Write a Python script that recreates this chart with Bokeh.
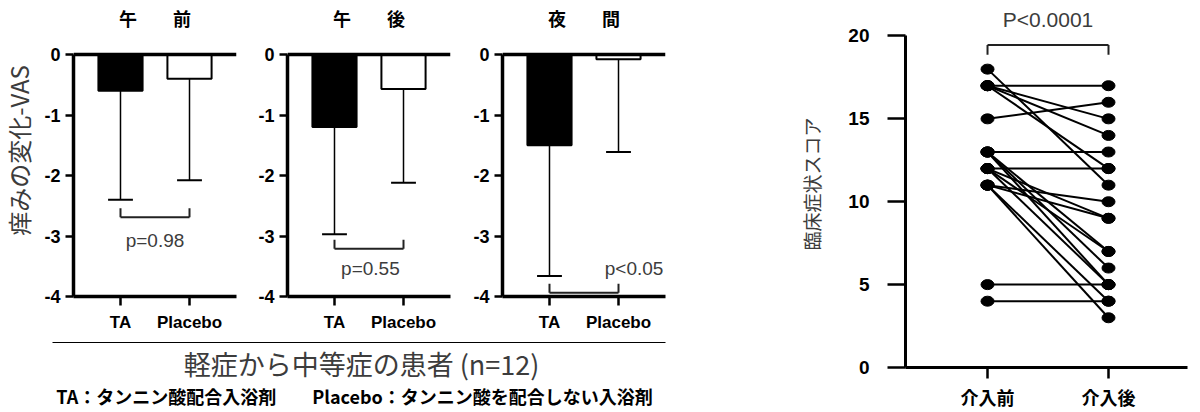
import numpy as np
from bokeh.plotting import figure
from bokeh.models import Range1d, FixedTicker, Label, ColumnDataSource
from bokeh.layouts import row, column
from bokeh.embed import file_html
from bokeh.resources import INLINE

# ---------------- data ----------------
groups = ["TA", "Placebo"]
period_titles = ["午　　前", "午　　後", "夜　　間"]
ta_mean = [-0.60, -1.20, -1.50]
ta_sd = [1.80, 1.77, 2.16]
placebo_mean = [-0.40, -0.57, -0.08]
placebo_sd = [1.68, 1.55, 1.53]
p_labels = ["p=0.98", "p=0.55", "p<0.05"]
vas_ticks = [0, -1, -2, -3, -4]
vas_ylabel = "痒みの変化-VAS"

score_categories = ["介入前", "介入後"]
score_before = [18, 17, 17, 17, 17, 15, 13, 13, 13, 13, 12, 12, 12, 12, 11, 11, 11, 11, 5, 4]
score_after = [11, 17, 15, 14, 12, 16, 13, 7, 6, 5, 12, 9, 7, 5, 10, 9, 4, 3, 5, 4]
score_ticks = [0, 5, 10, 15, 20]
score_p = "P<0.0001"
score_ylabel = "臨床症状スコア"

footer_main = "軽症から中等症の患者 (n=12)"
footer_note = "TA：タンニン酸配合入浴剤　　Placebo：タンニン酸を配合しない入浴剤"

# ---------------- style / layout ----------------
JP = "Noto Sans CJK JP"
LAT = "Liberation Sans"
GRAY = "#3c3c3c"
AX_W = 3.5

bracket_level = [-2.69, -3.21, -3.94]
bracket_rise = [0.15, 0.15, 0.15]
ptext_pos = [(1.5, -3.07, "center"), (1.52, -3.54, "center"), (2.65, -3.54, "right")]
title_y = 0.61

XR = (0.319, 2.681)
YR = (-4, 0.893)          # frame reaches the canvas top; axis bounded to [-4, 0]
panel_widths = [205, 215, 220]
panel_left = [33, 42, 42]
panel_right = [9, 10, 15]
PANEL_H = 335
STRIP_W = 40


def style_common(p):
    p.grid.visible = False
    p.outline_line_color = None
    p.background_fill_color = "white"
    p.border_fill_color = "white"


def style_axis(ax, font, size, tick_out, standoff, width):
    ax.major_tick_out = tick_out
    ax.major_tick_in = 0
    ax.minor_tick_out = 0
    ax.minor_tick_in = 0
    ax.major_label_standoff = standoff
    ax.axis_line_width = width
    ax.major_tick_line_width = 2.5
    ax.major_label_text_font = font
    ax.major_label_text_font_style = "bold"
    ax.major_label_text_font_size = size
    ax.major_label_text_color = "black"


def vas_panel(i):
    xs = np.arange(1, len(groups) + 1)
    means = np.array([ta_mean[i], placebo_mean[i]])
    sds = np.array([ta_sd[i], placebo_sd[i]])
    lows = means - sds
    p = figure(width=panel_widths[i], height=PANEL_H,
               x_range=Range1d(*XR), y_range=Range1d(*YR),
               output_backend="svg", toolbar_location=None,
               min_border_left=panel_left[i], min_border_right=panel_right[i],
               min_border_top=0, min_border_bottom=39)
    style_common(p)

    src = ColumnDataSource(dict(x=xs, m=means, lo=lows,
                                c0=xs - 0.18, c1=xs + 0.18,
                                fill=["black", "white"]))
    p.segment(x0="x", y0="m", x1="x", y1="lo", source=src, line_color="black", line_width=1.5)
    p.segment(x0="c0", y0="lo", x1="c1", y1="lo", source=src, line_color="black", line_width=2)
    p.vbar(x="x", top=0, bottom="m", width=0.64, source=src,
           fill_color="fill", line_color="black", line_width=2)
    # zero line across the top
    p.segment(x0=[XR[0]], y0=[0], x1=[XR[1]], y1=[0], line_color="black", line_width=AX_W)

    # significance bracket
    yb = bracket_level[i]
    yr = yb + bracket_rise[i]
    p.segment(x0=[xs[0], xs[0], xs[1]], y0=[yb, yb, yb],
              x1=[xs[1], xs[0], xs[1]], y1=[yb, yr, yr],
              line_color="#222222", line_width=2)
    tx, ty, ta = ptext_pos[i]
    p.add_layout(Label(x=tx, y=ty, text=p_labels[i], text_align=ta, text_baseline="middle",
                       text_font=LAT, text_font_size="19px", text_color=GRAY))
    # panel title
    p.add_layout(Label(x=(XR[0] + XR[1]) / 2, y=title_y, text=period_titles[i],
                       text_align="center", text_baseline="middle", text_font=JP,
                       text_font_size="18px", text_font_style="bold", text_color="black"))

    xa = p.xaxis[0]
    xa.ticker = FixedTicker(ticks=list(xs))
    xa.major_label_overrides = {int(v): g for v, g in zip(xs, groups)}
    style_axis(xa, LAT, "17px", 9, 7, AX_W)

    ya = p.yaxis[0]
    ya.ticker = FixedTicker(ticks=vas_ticks)
    ya.bounds = (-4, 0)
    ya.major_label_overrides = {v: str(v) for v in vas_ticks}
    style_axis(ya, LAT, "18px", 8, 5, AX_W)
    return p


panels = [vas_panel(i) for i in range(3)]

# y-label strip for the VAS panels
strip = figure(width=STRIP_W, height=PANEL_H, x_range=Range1d(0, STRIP_W),
               y_range=Range1d(0, PANEL_H), x_axis_type=None, y_axis_type=None,
               output_backend="svg", toolbar_location=None, min_border=0)
style_common(strip)
strip.add_layout(Label(x=18, y=PANEL_H - 170, text=vas_ylabel, angle=np.pi / 2,
                       text_align="center", text_baseline="middle", text_font=JP,
                       text_font_size="24px", text_color=GRAY))

# footer
FW, FH = 680, 77
foot = figure(width=FW, height=FH, x_range=Range1d(0, FW), y_range=Range1d(FH, 0),
              x_axis_type=None, y_axis_type=None, output_backend="svg",
              toolbar_location=None, min_border=0)
style_common(foot)
foot.segment(x0=[52], y0=[7], x1=[665], y1=[7], line_color="black", line_width=1.2)
foot.add_layout(Label(x=361, y=28, text=footer_main, text_align="center", text_baseline="middle",
                      text_font=JP, text_font_size="27px", text_color=GRAY))
foot.add_layout(Label(x=354, y=60, text=footer_note, text_align="center", text_baseline="middle",
                      text_font=JP, text_font_size="18px", text_font_style="bold",
                      text_color="black"))

# right: paired scores
pr = figure(width=520, height=412, x_range=Range1d(0.322, 2.653), y_range=Range1d(0, 22.14),
            output_backend="svg", toolbar_location=None,
            min_border_left=225, min_border_right=13, min_border_top=0, min_border_bottom=40)
style_common(pr)

n = len(score_before)
pr.segment(x0=[1] * n, y0=score_before, x1=[2] * n, y1=score_after,
           line_color="black", line_width=2)
pr.ellipse(x=[1] * n, y=score_before, width=13, height=10, width_units="screen",
           height_units="screen", fill_color="black", line_color="black")
pr.ellipse(x=[2] * n, y=score_after, width=13, height=10, width_units="screen",
           height_units="screen", fill_color="black", line_color="black")
pr.segment(x0=[1, 1, 2], y0=[19.46, 19.46, 19.46], x1=[2, 1, 2], y1=[19.46, 18.87, 18.87],
           line_color="#222222", line_width=2)
pr.add_layout(Label(x=1.5, y=20.98, text=score_p, text_align="center", text_baseline="middle",
                    text_font=LAT, text_font_size="21px", text_color=GRAY))

xa = pr.xaxis[0]
xa.ticker = FixedTicker(ticks=[1, 2])
xa.major_label_overrides = {i + 1: c for i, c in enumerate(score_categories)}
style_axis(xa, JP, "18px", 11, 5, 3)

ya = pr.yaxis[0]
ya.ticker = FixedTicker(ticks=score_ticks)
ya.bounds = (0, 20)
style_axis(ya, LAT, "19px", 18, 18, 3)
ya.axis_label = score_ylabel
ya.axis_label_text_font = JP
ya.axis_label_text_font_style = "normal"
ya.axis_label_text_font_size = "19px"
ya.axis_label_text_color = GRAY
ya.axis_label_standoff = 20

left_col = column(row(strip, *panels, spacing=0), foot, spacing=0)
layout = row(left_col, pr, spacing=0)

open("out.html", "w").write(file_html(layout, INLINE))
